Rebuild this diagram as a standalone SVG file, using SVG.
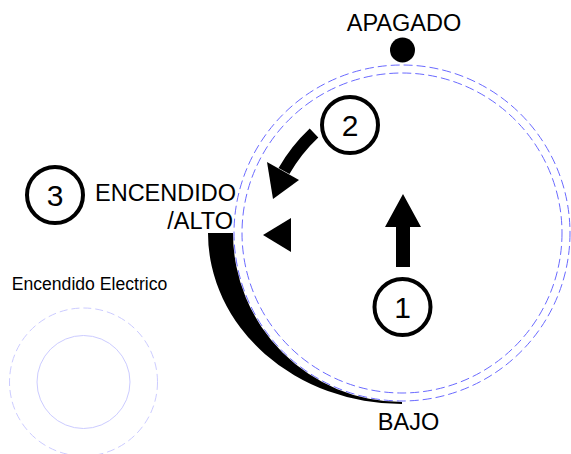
<svg xmlns="http://www.w3.org/2000/svg" width="571" height="454" viewBox="0 0 571 454">
<style>
text{font-family:"Liberation Sans",Arial,sans-serif;fill:#000}
.lbl{font-size:23.5px}
.num{font-size:30px;text-anchor:middle}
.ring{fill:#fff;stroke:#000;stroke-width:4}
.dash{fill:none;stroke:#6a6aff;stroke-width:1;stroke-dasharray:9 4}
</style>
<rect width="571" height="454" fill="#fff"/>
<g id="dial">
<circle class="dash" cx="402" cy="233" r="168"/>
<circle class="dash" cx="402" cy="233" r="160"/>
<path d="M208 233 L233 233 A169 169 0 0 0 402 402 L402 404 A194 171 0 0 1 208 233 Z" fill="#000"/>
</g>
<g id="apagado">
<circle cx="402.5" cy="50" r="12.5" fill="#000"/>
<text class="lbl" x="404" y="31" text-anchor="middle">APAGADO</text>
</g>
<g id="bajo"><text class="lbl" x="408.5" y="430" text-anchor="middle">BAJO</text></g>
<g id="encendido">
<text class="lbl" x="236" y="201" text-anchor="end">ENCENDIDO</text>
<text class="lbl" x="233" y="229" text-anchor="end">/ALTO</text>
</g>
<g id="step1">
<circle class="ring" cx="402.5" cy="307" r="28"/>
<text class="num" x="402.5" y="318">1</text>
</g>
<g id="step2">
<circle class="ring" cx="350" cy="125" r="28"/>
<text class="num" x="350" y="136">2</text>
</g>
<g id="step3">
<circle class="ring" cx="55" cy="195" r="28"/>
<text class="num" x="55" y="206">3</text>
</g>
<g id="electrico">
<text x="89.5" y="290" font-size="17.6" text-anchor="middle">Encendido Electrico</text>
<circle cx="83.5" cy="382" r="74" fill="none" stroke="#ccccff" stroke-width="1" stroke-dasharray="8 4"/>
<circle cx="83.5" cy="382" r="46.5" fill="none" stroke="#ccccff" stroke-width="1"/>
</g>
<g id="connectors">
<polygon points="403,194 421,227 410,227 410,267 396,267 396,227 385,227" fill="#000"/>
<polygon points="263,235 291,218 291,252" fill="#000"/>
<path d="M314 133 Q296 150 284 171" fill="none" stroke="#000" stroke-width="12.5"/>
<polygon points="267,162 299,180 273,199" fill="#000"/>
</g>
</svg>
